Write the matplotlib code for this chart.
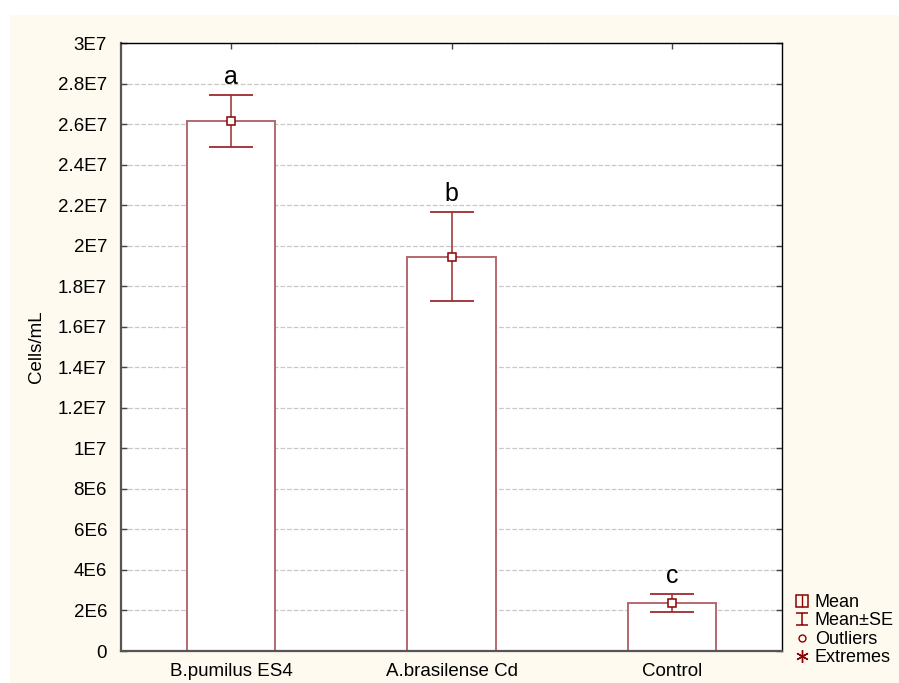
import numpy as np
import matplotlib.pyplot as plt
from matplotlib.patches import Rectangle
from matplotlib.lines import Line2D
from matplotlib.path import Path
from matplotlib.legend_handler import HandlerTuple

# Group means and standard errors (cells/mL)
groups = ['B.pumilus ES4', 'A.brasilense Cd', 'Control']
means = [2.615e7, 1.945e7, 2.37e6]
se = [1.28e6, 2.2e6, 4.6e5]
letters = ['a', 'b', 'c']

yticks = np.arange(0, 3.01e7, 2e6)
ytick_labels = ['0', '2E6', '4E6', '6E6', '8E6', '1E7', '1.2E7', '1.4E7', '1.6E7',
                '1.8E7', '2E7', '2.2E7', '2.4E7', '2.6E7', '2.8E7', '3E7']

bar_edge = '#B4686C'
err_col = '#9C2B2E'
mean_col = '#8B0000'

plt.rcParams['font.family'] = ['Liberation Sans', 'DejaVu Sans']

fig = plt.figure(figsize=(8.99, 6.83), dpi=100)
fig.patch.set_facecolor('white')
# cream panel behind the chart
fig.patches.append(Rectangle((10 / 899, 0), 889 / 899, 1 - 15 / 683,
                             transform=fig.transFigure, facecolor='#FEFAEF',
                             edgecolor='none', zorder=-10))

ax = fig.add_axes([121 / 899, 32 / 683, 661 / 899, 608 / 683])
ax.set_facecolor('white')

x = np.arange(len(groups))
ax.bar(x, means, width=0.4, facecolor='white', edgecolor=bar_edge, linewidth=1.4, zorder=2)
ax.errorbar(x, means, yerr=se, fmt='none', ecolor=err_col, elinewidth=1.1,
            capsize=15.5, capthick=1.3, zorder=3)
ax.plot(x, means, 's', ms=6, mfc='white', mec=mean_col, mew=1.1, zorder=4)

for xi, m, s, lab in zip(x, means, se, letters):
    ax.text(xi, m + s + 3e5, lab, ha='center', va='bottom', fontsize=18)

ax.set_xlim(-0.5, 2.5)
ax.set_ylim(0, 3e7)
ax.set_yticks(yticks)
ax.set_yticklabels(ytick_labels, fontsize=13.5)
ax.set_xticks(x)
ax.set_xticklabels(groups, fontsize=13.5)
ax.tick_params(direction='in', length=4, width=1, top=True, right=True, color='#444444')
ax.tick_params(axis='y', pad=10)
ax.tick_params(axis='x', pad=9)
ax.grid(axis='y', color='#C8C8C8', linestyle='--', linewidth=0.9, zorder=0)
ax.set_axisbelow(True)
for side in ['left', 'bottom']:
    ax.spines[side].set_color('#555555')
    ax.spines[side].set_linewidth(1.6)
for side in ['top', 'right']:
    ax.spines[side].set_color('black')
    ax.spines[side].set_linewidth(1.0)

ax.set_ylabel('Cells/mL', fontsize=13.5, labelpad=9)

# legend symbols
i_marker = Path([(-1, 1), (1, 1), (0, 1), (0, -1), (-1, -1), (1, -1)],
                [Path.MOVETO, Path.LINETO, Path.MOVETO, Path.LINETO, Path.MOVETO, Path.LINETO])
mean_box = Line2D([], [], ls='none', marker='s', ms=8, mfc='none', mec=mean_col, mew=1.1)
mean_stem = Line2D([], [], ls='none', marker='|', ms=8, mec=mean_col, mew=1.0)
handles = [
    (mean_box, mean_stem),
    Line2D([], [], ls='none', marker=i_marker, ms=9, mfc='none', mec=mean_col, mew=1.1),
    Line2D([], [], ls='none', marker='o', ms=5, mfc='none', mec=mean_col, mew=1.0),
    Line2D([], [], ls='none', marker=(6, 2, 0), ms=9, mec=mean_col, mew=1.0),
]
fig.legend(handles, ['Mean', 'Mean±SE', 'Outliers', 'Extremes'],
           handler_map={tuple: HandlerTuple(ndivide=1)},
           loc='upper left', bbox_to_anchor=(786 / 899, 1 - 585 / 683),
           frameon=False, fontsize=13, handlelength=0.8, handletextpad=0.3,
           labelspacing=0.08, borderpad=0)

fig.savefig('out.png', dpi=100)
